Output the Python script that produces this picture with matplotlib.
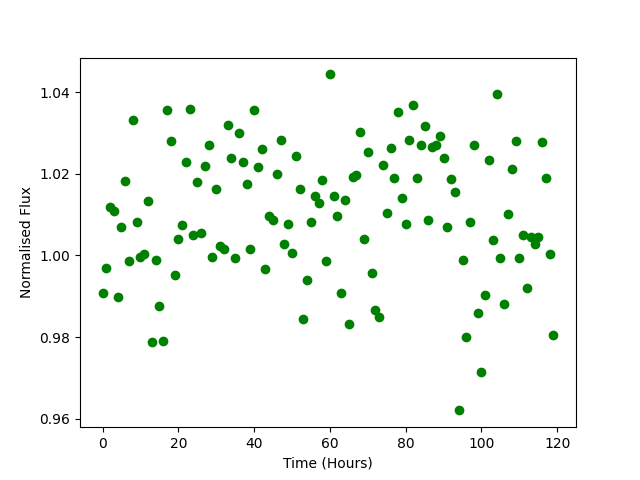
import numpy as np
import matplotlib
matplotlib.use("Agg")
import matplotlib.pyplot as plt

# hourly normalised flux readings
hours = np.arange(120)
flux = [
    0.9907, 0.9970, 1.0120, 1.0110, 0.9897, 1.0069, 1.0182, 0.9986, 1.0331, 1.0083,
    0.9995, 1.0003, 1.0133, 0.9787, 0.9990, 0.9877, 0.9791, 1.0356, 1.0280, 0.9951,
    1.0040, 1.0074, 1.0230, 1.0360, 1.0049, 1.0180, 1.0056, 1.0220, 1.0270, 0.9995,
    1.0164, 1.0024, 1.0017, 1.0319, 1.0240, 0.9993, 1.0300, 1.0230, 1.0174, 1.0015,
    1.0356, 1.0216, 1.0260, 0.9966, 1.0096, 1.0086, 1.0200, 1.0282, 1.0027, 1.0078,
    1.0005, 1.0243, 1.0162, 0.9843, 0.9941, 1.0083, 1.0145, 1.0128, 1.0185, 0.9986,
    1.0444, 1.0147, 1.0096, 0.9909, 1.0137, 0.9831, 1.0192, 1.0197, 1.0302, 1.0040,
    1.0253, 0.9956, 0.9867, 0.9848, 1.0223, 1.0103, 1.0263, 1.0190, 1.0351, 1.0142,
    1.0076, 1.0282, 1.0368, 1.0190, 1.0272, 1.0317, 1.0086, 1.0267, 1.0270, 1.0292,
    1.0238, 1.0069, 1.0187, 1.0155, 0.9620, 0.9990, 0.9799, 1.0083, 1.0272, 0.9860,
    0.9715, 0.9904, 1.0233, 1.0037, 1.0395, 0.9993, 0.9882, 1.0101, 1.0211, 1.0280,
    0.9993, 1.0051, 0.9921, 1.0046, 1.0027, 1.0046, 1.0277, 1.0190, 1.0003, 0.9806,
]

plt.figure(figsize=(6.4, 4.8), dpi=100)
plt.scatter(hours, flux, color="g")
plt.xlabel("Time (Hours)")
plt.ylabel("Normalised Flux")
plt.savefig("out.png")
